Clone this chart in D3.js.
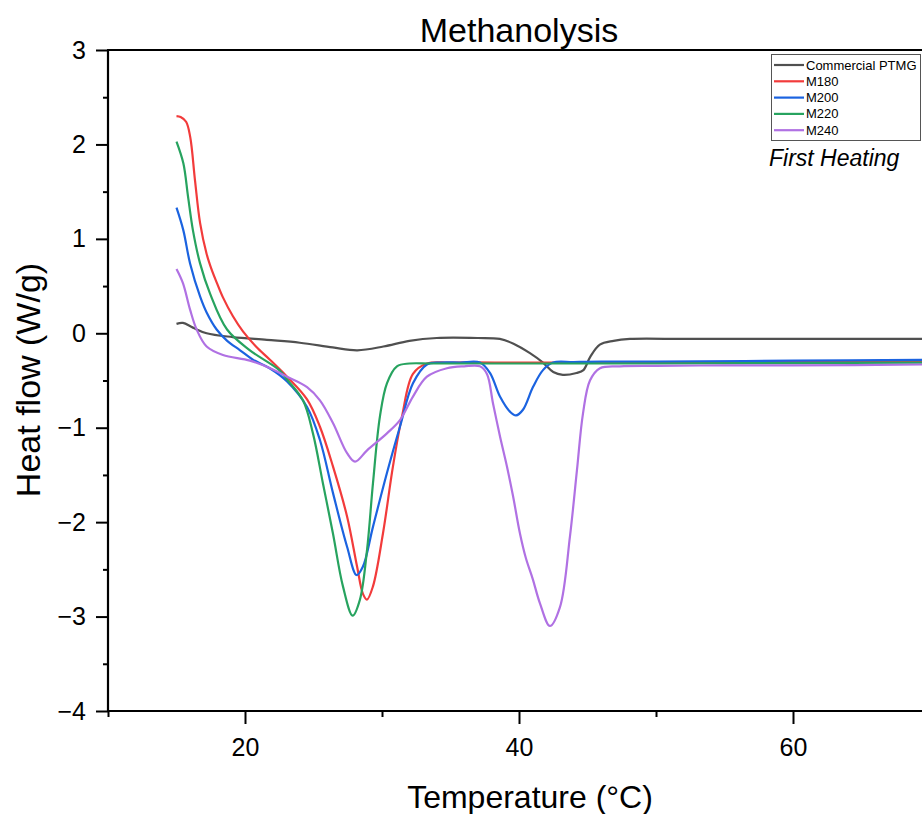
<!DOCTYPE html>
<html>
<head>
<meta charset="utf-8">
<script src="https://cdn.jsdelivr.net/npm/d3@7"></script>
<style>
  html, body { margin: 0; padding: 0; background: #fff; }
  svg { display: block; font-family: Arial, "Liberation Sans", sans-serif; }
</style>
</head>
<body>
<svg id="chart" width="922" height="814"></svg>
<script>
// DSC first-heating traces, [temperature °C, heat flow W/g]
const ptmg = [[15.0,0.10],[15.47,0.11],[16.2,0.06],[17.2,0.00],[19.1,-0.04],[21.6,-0.07],[24.0,-0.10],[26.4,-0.15],[28.2,-0.18],[30.1,-0.14],[32.0,-0.08],[34.0,-0.05],[37.0,-0.05],[38.6,-0.06],[39.6,-0.11],[40.8,-0.21],[41.75,-0.31],[42.5,-0.41],[43.2,-0.44],[44.2,-0.42],[44.7,-0.39],[45.2,-0.25],[45.9,-0.12],[46.9,-0.08],[48.1,-0.06],[52,-0.06],[56,-0.06],[60,-0.06],[65,-0.06],[70,-0.06]];
const m180 = [[15.0,2.30],[15.3,2.29],[15.7,2.24],[16.0,2.08],[16.35,1.62],[16.72,1.17],[17.2,0.84],[17.6,0.66],[17.93,0.54],[18.39,0.38],[19.12,0.18],[19.85,0.02],[20.8,-0.14],[21.82,-0.28],[23.07,-0.46],[24.53,-0.70],[25.47,-0.99],[26.42,-1.41],[27.45,-1.94],[28.18,-2.47],[28.61,-2.76],[28.9,-2.82],[29.34,-2.68],[30.07,-2.12],[30.8,-1.41],[31.46,-0.88],[32.26,-0.43],[33.28,-0.32],[35,-0.31],[40,-0.31],[45,-0.31],[50,-0.31],[60,-0.305],[70,-0.30]];
const m200 = [[15.0,1.33],[15.5,1.09],[15.99,0.74],[16.72,0.39],[17.2,0.22],[17.93,0.04],[18.7,-0.08],[19.64,-0.18],[20.58,-0.28],[21.8,-0.37],[23.07,-0.51],[24.53,-0.78],[25.47,-1.13],[26.42,-1.69],[27.45,-2.26],[28.15,-2.56],[28.61,-2.47],[29.34,-2.05],[30.36,-1.48],[31.31,-0.99],[32.26,-0.53],[33.28,-0.33],[34.23,-0.31],[35.7,-0.31],[37.15,-0.31],[37.88,-0.42],[38.61,-0.67],[39.34,-0.83],[39.78,-0.87],[40.29,-0.81],[41.02,-0.57],[41.75,-0.39],[42.48,-0.31],[44,-0.305],[46,-0.30],[50,-0.30],[60,-0.29],[70,-0.28]];
const m220 = [[15.0,2.03],[15.5,1.80],[15.84,1.45],[16.2,1.09],[16.72,0.74],[17.45,0.42],[18.69,0.04],[20.36,-0.18],[22.5,-0.39],[23.07,-0.49],[24.23,-0.71],[24.96,-1.06],[25.69,-1.59],[26.42,-2.12],[27.15,-2.68],[27.86,-2.99],[28.39,-2.82],[28.91,-2.29],[29.34,-1.59],[29.85,-0.88],[30.36,-0.53],[31.09,-0.35],[32.0,-0.32],[33.5,-0.32],[36,-0.32],[40,-0.32],[45,-0.32],[50,-0.32],[60,-0.315],[70,-0.31]];
const m240 = [[15.0,0.68],[15.47,0.53],[15.99,0.25],[16.47,0.04],[17.2,-0.14],[18.39,-0.23],[20.36,-0.29],[22.0,-0.38],[23.07,-0.46],[24.53,-0.57],[25.47,-0.71],[26.42,-0.95],[27.45,-1.27],[28.03,-1.36],[28.91,-1.24],[30.36,-1.06],[31.31,-0.92],[32.26,-0.67],[33.28,-0.46],[34.74,-0.37],[36.0,-0.35],[37.15,-0.35],[37.66,-0.43],[38.1,-0.74],[38.61,-1.09],[39.12,-1.41],[39.56,-1.72],[40.07,-2.12],[40.5,-2.38],[41.0,-2.60],[41.53,-2.86],[42.26,-3.10],[42.99,-2.90],[43.72,-2.15],[44.23,-1.45],[44.67,-0.85],[45.18,-0.50],[45.91,-0.37],[47.37,-0.35],[50,-0.345],[55,-0.34],[60,-0.34],[70,-0.33]];

const seriesNames = ["Commercial PTMG", "M180", "M200", "M220", "M240"];
const seriesData = [ptmg, m180, m200, m220, m240];
const seriesColors = ["#505050", "#f23b3b", "#1b63e0", "#27a35f", "#b071e3"];

const xMajorTicks = [20, 40, 60];
const xMinorTicks = [10, 30, 50, 70];
const yMajorTicks = [-4, -3, -2, -1, 0, 1, 2, 3];
const yMinorTicks = [-3.5, -2.5, -1.5, -0.5, 0.5, 1.5, 2.5];

const svg = d3.select("#chart");
const x = d3.scaleLinear().domain([10, 70]).range([108, 930]);
const y = d3.scaleLinear().domain([-4, 3]).range([711, 50]);

svg.append("defs").append("clipPath").attr("id", "plot-clip")
  .append("rect").attr("x", 108).attr("y", 50).attr("width", 822).attr("height", 661);

// traces
const line = d3.line().x(d => x(d[0])).y(d => y(d[1])).curve(d3.curveCatmullRom.alpha(0.5));
svg.append("g").attr("clip-path", "url(#plot-clip)")
  .selectAll("path").data(seriesData).join("path")
  .attr("d", line)
  .attr("fill", "none")
  .attr("stroke", (d, i) => seriesColors[i])
  .attr("stroke-width", 2.2)
  .attr("stroke-linejoin", "round");

// axes
function styleAxis(g) {
  g.select(".domain").remove();
  g.selectAll(".tick line").attr("stroke", "#000").attr("stroke-width", 2);
  g.selectAll(".tick text").attr("fill", "#000").attr("font-size", 25)
    .attr("font-family", "Arial, 'Liberation Sans', sans-serif");
}
svg.append("g").attr("transform", "translate(0,711)")
  .call(d3.axisBottom(x).tickValues(xMajorTicks).tickSize(13).tickPadding(14).tickFormat(d3.format("d")))
  .call(styleAxis);
svg.append("g").attr("transform", "translate(0,711)")
  .call(d3.axisBottom(x).tickValues(xMinorTicks).tickSize(6).tickFormat(""))
  .call(styleAxis);
svg.append("g").attr("transform", "translate(108,0)")
  .call(d3.axisLeft(y).tickValues(yMajorTicks).tickSize(12).tickPadding(10).tickFormat(d3.format("d")))
  .call(styleAxis);
svg.append("g").attr("transform", "translate(108,0)")
  .call(d3.axisLeft(y).tickValues(yMinorTicks).tickSize(5).tickFormat(""))
  .call(styleAxis);

// frame
const frame = svg.append("g").attr("stroke", "#000").attr("stroke-width", 2.2).attr("fill", "none");
frame.append("line").attr("x1", 108).attr("x2", 108).attr("y1", y(3)).attr("y2", y(-4));
frame.append("line").attr("x1", 107).attr("x2", 930).attr("y1", y(-4)).attr("y2", y(-4));
frame.append("line").attr("x1", 107).attr("x2", 930).attr("y1", y(3)).attr("y2", y(3));

// titles
svg.append("text").attr("x", 519).attr("y", 42).attr("text-anchor", "middle")
  .attr("font-size", 34).text("Methanolysis");
svg.append("text").attr("x", 530).attr("y", 808).attr("text-anchor", "middle")
  .attr("font-size", 32).text("Temperature (°C)");
svg.append("text").attr("transform", "translate(40,380) rotate(-90)").attr("text-anchor", "middle")
  .attr("font-size", 34).text("Heat flow (W/g)");

// legend
const legend = svg.append("g");
legend.append("rect").attr("x", 771.5).attr("y", 54.5).attr("width", 149).attr("height", 86)
  .attr("fill", "#fff").attr("stroke", "#555").attr("stroke-width", 1);
const rows = legend.selectAll("g.row").data(seriesNames).join("g")
  .attr("transform", (d, i) => `translate(0,${65 + i * 16.3})`);
rows.append("line").attr("x1", 774).attr("x2", 804).attr("y1", 0).attr("y2", 0)
  .attr("stroke", (d, i) => seriesColors[i]).attr("stroke-width", 2.2);
rows.append("text").attr("x", 806).attr("y", 0).attr("dy", "0.35em")
  .attr("font-size", 13).text(d => d);

svg.append("text").attr("x", 769).attr("y", 166).attr("font-size", 23)
  .attr("font-style", "italic").text("First Heating");
</script>
</body>
</html>
